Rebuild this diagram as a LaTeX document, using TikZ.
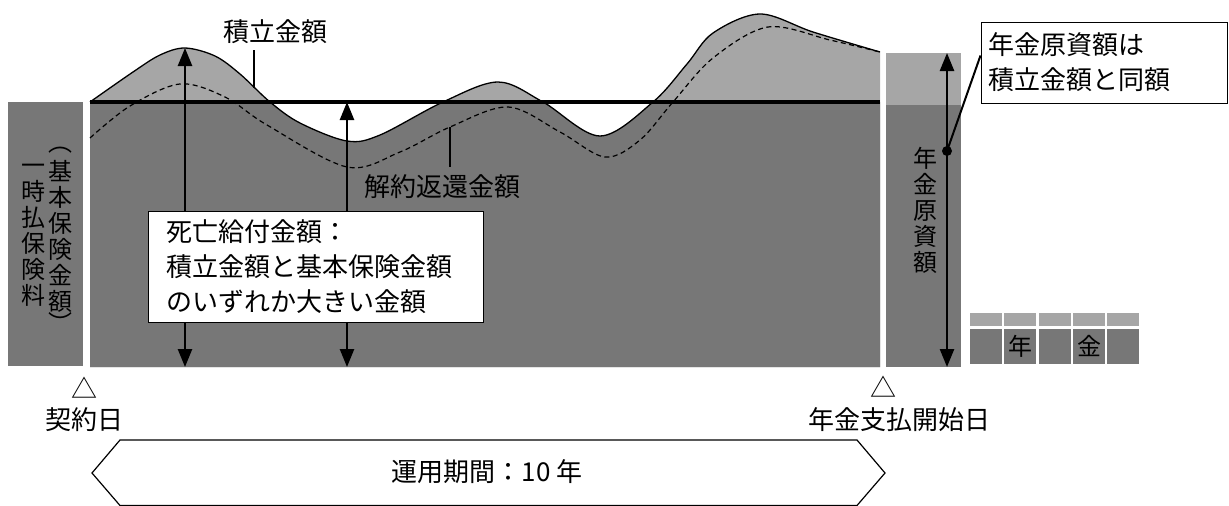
\documentclass[tikz,border=0pt]{standalone}
\usepackage{fontspec}
\setmainfont{Noto Sans CJK JP}
\usepackage{xcolor}
\usepackage{tikz}
\usetikzlibrary{arrows.meta, positioning}

\definecolor{basegray}{RGB}{119,119,119}
\definecolor{gaingray}{RGB}{166,166,166}

\begin{document}
\begin{tikzpicture}[x=1pt, y=-1pt,
    captext/.style={font=\fontsize{26}{35}\selectfont, inner sep=0pt},
    vtext/.style={font=\fontsize{24}{26}\selectfont, inner sep=0pt, align=center},
    amount/.style={{Triangle[length=18pt, width=14pt]}-{Triangle[length=18pt, width=14pt]}, line width=2.5pt},
    leader/.style={line width=1.5pt},
    notebox/.style={captext, draw, line width=1pt, fill=white, align=left}]

    \useasboundingbox (0,0) rectangle (1229,506);

    % Curves: account value and surrender value
    \def\fundcurve{plot[smooth, tension=0.55] coordinates {(90,102) (133,72) (160,55) (185,48) (215,56)
        (240,74) (270,102) (300,123) (347,141) (380,135) (443,102) (498,82) (543,102) (600,136)
        (653,102) (687,64) (713,33) (760,14) (813,32) (880,52)}}
    \def\surrcurve{plot[smooth, tension=0.55] coordinates {(90,138) (130,106) (180,84) (225,97)
        (267,125) (347,167) (400,152) (450,127) (508,107) (560,132) (605,157) (640,140) (673,102)
        (713,58) (768,27) (830,40) (880,52)}}

    % Premium column
    \fill[basegray] (8,102) rectangle (83,366);
    \node[vtext] (premL) at (33,235) {一\\時\\払\\保\\険\\料};
    \node[vtext] (premR) at (60,236) {基\\本\\保\\険\\金\\額};
    \node[vtext] (parenT) at (60,150) {︵};
    \node[vtext] (parenB) at (60,322) {︶};

    % Accumulation period
    \fill[gaingray] \fundcurve -- (880,367) -- (90,367) -- cycle;
    \begin{scope}
        \clip (90,102) rectangle (880,367);
        \fill[basegray] \fundcurve -- (880,367) -- (90,367) -- cycle;
    \end{scope}
    \draw[line width=1.3pt] \fundcurve;
    \draw[line width=1.2pt, dash pattern=on 5pt off 3.5pt] \surrcurve;
    \draw[line width=3.2pt] (90,102) -- (880,102);

    % Annuity fund column
    \fill[gaingray] (886,53) rectangle (961,105);
    \fill[basegray] (886,105) rectangle (961,367);
    \node[vtext] (fundV) at (925,210) {年\\金\\原\\資\\額};

    % Amount arrows
    \coordinate (peakTop) at (185,48);
    \coordinate (peakBot) at (185,367);
    \coordinate (baseTop) at (347,102);
    \coordinate (baseBot) at (347,367);
    \coordinate (fundTop) at (947,53);
    \coordinate (fundBot) at (947,367);
    \coordinate (fundDot) at (947,151);
    \draw[amount] (peakTop) -- (peakBot);
    \draw[amount] (baseTop) -- (baseBot);
    \draw[amount] (fundTop) -- (fundBot);
    \fill (fundDot) circle (5);

    % Callout
    \node[notebox, text width=232pt, inner xsep=7pt, minimum height=81pt] (fundNote) at (1104,62.5)
        {年金原資額は\\積立金額と同額};
    \draw[line width=2pt] (fundDot) -- ([yshift=-34pt]fundNote.north west);

    % Curve labels
    \node[captext] (totalLbl) at (275,32) {積立金額};
    \coordinate (totalTop) at (254,50);
    \coordinate (totalTip) at (254,88);
    \draw[leader] (totalTop) -- (totalTip);
    \node[captext] (surrLbl) at (442,187) {解約返還金額};
    \coordinate (surrTip) at (450,127);
    \coordinate (surrEnd) at (450,167);
    \draw[leader] (surrTip) -- (surrEnd);

    % Death benefit box
    \node[notebox, text width=299pt, inner xsep=18pt, minimum height=111pt] (deathBox) at (315.5,266.5)
        {死亡給付金額：\\積立金額と基本保険金額\\のいずれか大きい金額};

    % Annuity blocks
    \foreach \i in {0,...,4} {
        \fill[gaingray] (970+34.3*\i,313) rectangle ++(32,13);
        \fill[basegray] (970+34.3*\i,329) rectangle ++(32,35);
    }
    \node[vtext] (payYear) at (1020,346) {年};
    \node[vtext] (payGold) at (1089,346) {金};

    % Dates
    \node[captext] (startMark) at (84,388) {△};
    \node[captext] (startLbl) at (84,420) {契約日};
    \node[captext] (payMark) at (883,387) {△};
    \node[captext] (payLbl) at (899,420) {年金支払開始日};

    % Period
    \draw[line width=1.2pt] (120,440) -- (857,440) -- (885,473) -- (857,505.5)
        -- (120,505.5) -- (92,473) -- cycle;
    \node[captext] (termLbl) at (487,472) {運用期間：10 年};

\end{tikzpicture}
\end{document}
